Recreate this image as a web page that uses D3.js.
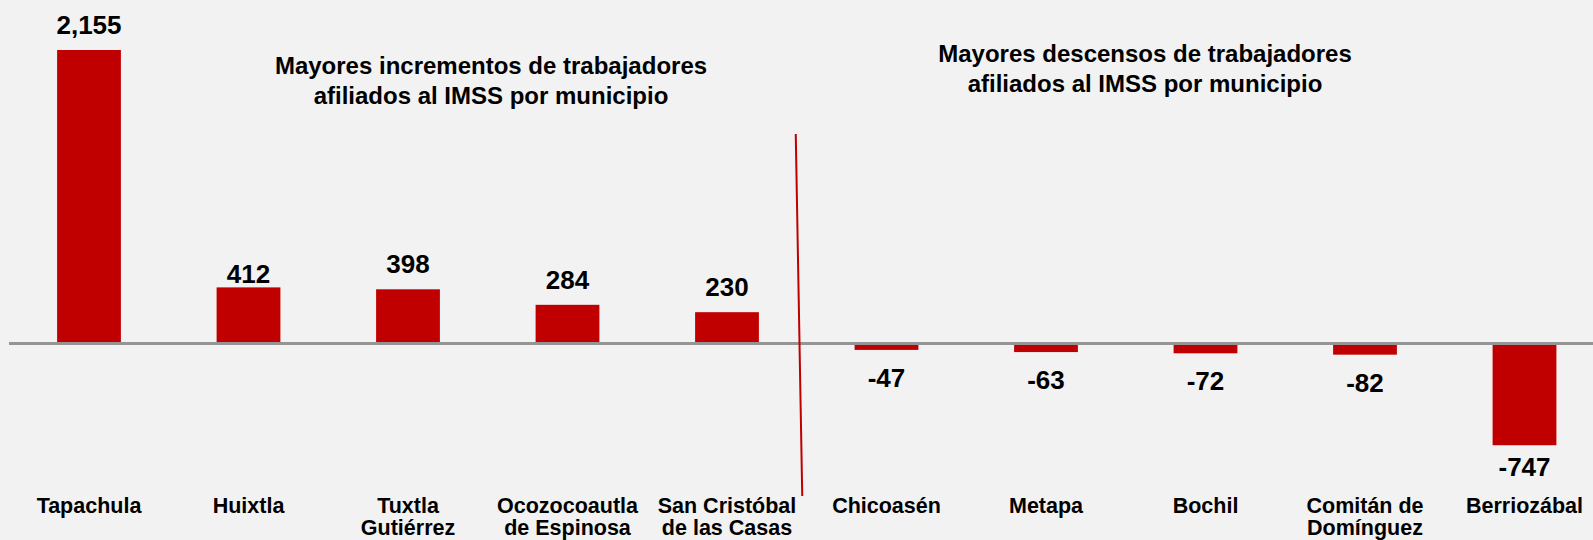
<!DOCTYPE html>
<html lang="es">
  <head>
    <meta charset="utf-8">
    <title>Trabajadores afiliados al IMSS por municipio</title>
    <script src="https://d3js.org/d3.v7.min.js" charset="utf-8"></script>
    <style>
      html, body { margin: 0; padding: 0; background: #f2f2f2; }
      svg text { font-family: "Liberation Sans", Arial, sans-serif; font-weight: bold; fill: #000; }
    </style>
  </head>
  <body>
    <div id="dataviz"></div>
  <script type="text/javascript">
    // municipios (line breaks as in the original labels)
    var categories = ["Tapachula", "Huixtla", "Tuxtla\nGutiérrez", "Ocozocoautla\nde Espinosa",
                      "San Cristóbal\nde las Casas", "Chicoasén", "Metapa", "Bochil",
                      "Comitán de\nDomínguez", "Berriozábal"];
    var values = [2155, 412, 398, 284, 230, -47, -63, -72, -82, -747];
    var titles = [
      ["Mayores incrementos de trabajadores", "afiliados al IMSS por municipio"],
      ["Mayores descensos de trabajadores", "afiliados al IMSS por municipio"]
    ];

    var width = 1593, height = 540;

    var svg = d3.select("#dataviz")
      .append("svg")
        .attr("width", width)
        .attr("height", height);

    svg.append("rect")
      .attr("width", width)
      .attr("height", height)
      .attr("fill", "#f2f2f2");

    var x = d3.scaleBand()
        .domain(categories)
        .range([9.25, 1604.25])
        .paddingInner(0.6)
        .paddingOuter(0.3);

    // zero sits at 343.5, 2,155 reaches y=50
    var y = d3.scaleLinear()
        .domain([-1000, 2155])
        .range([343.5 + 1000 * 293.5 / 2155, 50]);

    // bars
    svg.selectAll(".bar")
      .data(values)
      .enter()
      .append("rect")
      .attr("class", "bar")
      .attr("x", function(d, i) { return x(categories[i]); })
      .attr("y", function(d) { return y(Math.max(0, d)); })
      .attr("width", x.bandwidth())
      .attr("height", function(d) { return Math.abs(y(d) - y(0)); })
      .attr("fill", "#c00000");

    // zero line
    svg.append("line")
      .attr("x1", 9).attr("x2", width)
      .attr("y1", y(0)).attr("y2", y(0))
      .attr("stroke", "#959595")
      .attr("stroke-width", 3);

    // divider between both groups
    var split = (x(categories[4]) + x.bandwidth() + x(categories[5])) / 2;
    svg.append("line")
      .attr("x1", split - 11).attr("y1", 134)
      .attr("x2", split - 4.5).attr("y2", 496)
      .attr("stroke", "#c00000")
      .attr("stroke-width", 2);

    // value labels (plain hyphen for negatives, like the original)
    var fmt = d3.formatLocale({decimal: ".", thousands: ",", grouping: [3], currency: ["$", ""], minus: "-"}).format(",");
    // a couple of labels were hand-placed in the original
    var nudge = {1: 12, 9: -6};
    svg.selectAll(".val")
      .data(values)
      .enter()
      .append("text")
      .attr("class", "val")
      .attr("text-anchor", "middle")
      .attr("font-size", 26)
      .attr("x", function(d, i) { return x(categories[i]) + x.bandwidth() / 2; })
      .attr("y", function(d, i) { return (d >= 0 ? y(d) - 16 : y(d) + 37) + (nudge[i] || 0); })
      .text(function(d) { return fmt(d); });

    // category axis, no line or ticks
    var xAxis = svg.append("g")
      .attr("transform", "translate(0,513)")
      .call(d3.axisBottom(x).tickSize(0).tickPadding(0));
    xAxis.select(".domain").remove();
    xAxis.selectAll("text")
      .attr("y", 0)
      .attr("dy", null)
      .attr("font-size", 21.5)
      .attr("font-family", null)
      .attr("fill", "#000")
      .each(function(d) {
        var t = d3.select(this).text(null);
        d.split("\n").forEach(function(line, k) {
          t.append("tspan").attr("x", 0).attr("dy", k ? 22 : 0).text(line);
        });
      });

    // section titles
    var titlePos = [{cx: 491, y: 74}, {cx: 1145, y: 62}];
    titles.forEach(function(lines, i) {
      var t = svg.append("text")
        .attr("text-anchor", "middle")
        .attr("font-size", 24)
        .attr("x", titlePos[i].cx)
        .attr("y", titlePos[i].y);
      lines.forEach(function(line, k) {
        t.append("tspan").attr("x", titlePos[i].cx).attr("dy", k ? 29.5 : 0).text(line);
      });
    });
  </script>
  </body>
</html>
